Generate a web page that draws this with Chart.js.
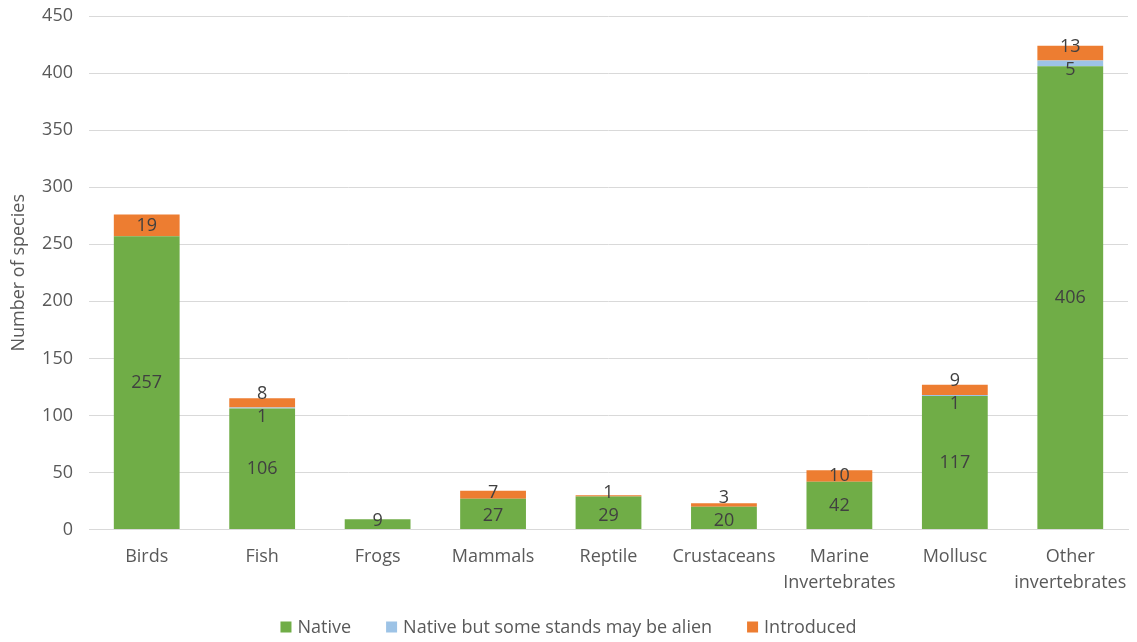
<!DOCTYPE html>
<html>
<head>
<meta charset="utf-8">
<script src="https://cdn.jsdelivr.net/npm/chart.js@4.4.1/dist/chart.umd.min.js"></script>
<style>
  html, body { margin: 0; padding: 0; background: #ffffff; }
  #wrap { width: 1137px; height: 642px; position: relative; }
</style>
</head>
<body>
<div id="wrap"><canvas id="c" width="1137" height="642"></canvas></div>
<script>
const categories = ['Birds', 'Fish', 'Frogs', 'Mammals', 'Reptile', 'Crustaceans',
  ['Marine', 'Invertebrates'], 'Mollusc', ['Other', 'invertebrates']];
const nativeCounts = [257, 106, 9, 27, 29, 20, 42, 117, 406];
const possiblyAlienCounts = [0, 1, 0, 0, 0, 0, 0, 1, 5];
const introducedCounts = [19, 8, 0, 7, 1, 3, 10, 9, 13];
const yTicks = [0, 50, 100, 150, 200, 250, 300, 350, 400, 450];

const FONT = "'Open Sans', 'DejaVu Sans', sans-serif";
const TEXT_GREY = '#595959';

// Writes each non-zero segment's value at the centre of its segment,
// nudging labels of thin neighbouring segments apart so they stay legible.
const segmentLabels = {
  id: 'segmentLabels',
  afterDatasetsDraw(chart) {
    const ctx = chart.ctx;
    const gap = 23;
    const bottomLimit = chart.chartArea.bottom - 9;
    ctx.save();
    ctx.font = '18px ' + FONT;
    ctx.fillStyle = '#404040';
    ctx.textAlign = 'center';
    ctx.textBaseline = 'middle';
    chart.data.labels.forEach((_, i) => {
      const items = [];
      chart.data.datasets.forEach((ds, di) => {
        const v = ds.data[i];
        if (!v) return;
        const bar = chart.getDatasetMeta(di).data[i];
        items.push({ text: String(v), x: bar.x, y: (bar.y + bar.base) / 2 });
      });
      // items run bottom to top (descending pixel y)
      for (let pass = 0; pass < 5; pass++) {
        for (let k = 0; k < items.length - 1; k++) {
          const lo = items[k], hi = items[k + 1];
          const d = lo.y - hi.y;
          if (d < gap) {
            const shift = (gap - d) / 2;
            lo.y += shift;
            hi.y -= shift;
          }
        }
        items.forEach(it => { if (it.y > bottomLimit) it.y = bottomLimit; });
      }
      items.forEach(it => ctx.fillText(it.text, it.x, it.y));
    });
    ctx.restore();
  }
};

// Single-row legend centred under the plot: small square swatch, then the series name
const bottomLegend = {
  id: 'bottomLegend',
  afterDraw(chart) {
    const ctx = chart.ctx;
    const box = 11, boxGap = 6, itemGap = 35, y = 627;
    ctx.save();
    ctx.font = '18px ' + FONT;
    ctx.textBaseline = 'middle';
    ctx.textAlign = 'left';
    const items = chart.data.datasets.map(ds => ({
      text: ds.label, color: ds.backgroundColor, w: box + boxGap + ctx.measureText(ds.label).width
    }));
    const total = items.reduce((s, it) => s + it.w, 0) + itemGap * (items.length - 1);
    let x = (chart.width - total) / 2;
    items.forEach(it => {
      ctx.fillStyle = it.color;
      ctx.fillRect(x, y - box / 2, box, box);
      ctx.fillStyle = TEXT_GREY;
      ctx.fillText(it.text, x + box + boxGap, y + 1);
      x += it.w + itemGap;
    });
    ctx.restore();
  }
};

new Chart(document.getElementById('c'), {
  type: 'bar',
  data: {
    labels: categories,
    datasets: [
      { label: 'Native', data: nativeCounts, backgroundColor: '#70ad47' },
      { label: 'Native but some stands may be alien', data: possiblyAlienCounts, backgroundColor: '#9dc3e6' },
      { label: 'Introduced', data: introducedCounts, backgroundColor: '#ed7d31' }
    ]
  },
  options: {
    responsive: false,
    animation: false,
    layout: { padding: { left: 4, right: 9, top: 16, bottom: 32 } },
    datasets: { bar: { categoryPercentage: 1.0, barPercentage: 0.57 } },
    plugins: {
      legend: { display: false },
      tooltip: { enabled: false }
    },
    scales: {
      x: {
        stacked: true,
        grid: { display: false, drawTicks: false },
        border: { color: '#d9d9d9', width: 1 },
        ticks: { font: { family: FONT, size: 18, lineHeight: 1.4 }, color: TEXT_GREY, padding: 15, maxRotation: 0, autoSkip: false },
        afterFit(axis) { axis.paddingLeft = 0; axis.paddingRight = 0; }
      },
      y: {
        stacked: true,
        min: 0,
        max: 450,
        afterBuildTicks(axis) { axis.ticks = yTicks.map(v => ({ value: v })); },
        afterFit(axis) { axis.width = 85; axis.paddingTop = 0; axis.paddingBottom = 0; },
        grid: { color: '#d9d9d9', drawTicks: false },
        border: { display: false },
        ticks: { font: { family: FONT, size: 18 }, color: TEXT_GREY, padding: 16 },
        title: { display: true, text: 'Number of species', font: { family: FONT, size: 18 }, color: TEXT_GREY }
      }
    }
  },
  plugins: [segmentLabels, bottomLegend]
});
</script>
</body>
</html>
